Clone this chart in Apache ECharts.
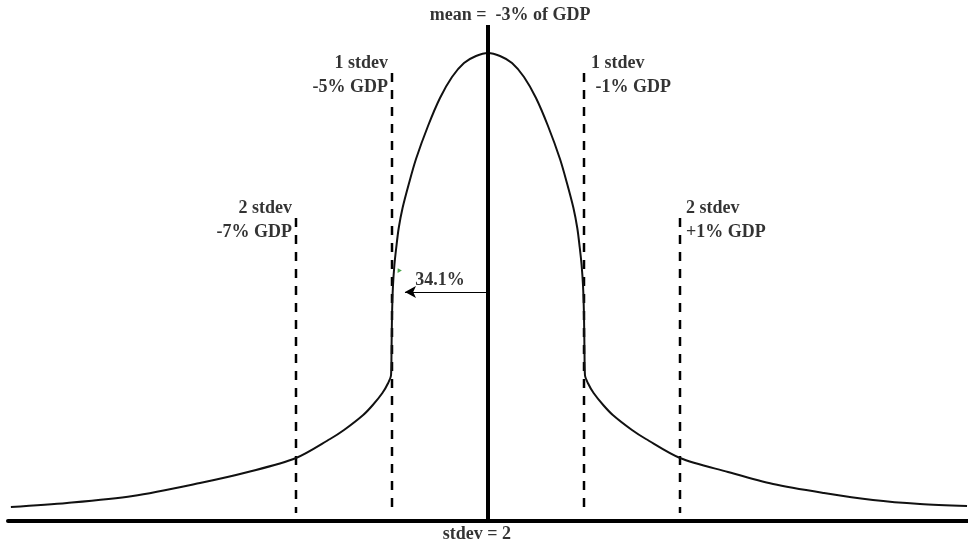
<!DOCTYPE html>
<html><head><meta charset="utf-8">
<script src="https://cdn.jsdelivr.net/npm/echarts@6/dist/echarts.min.js"></script>
<style>html,body{margin:0;padding:0;background:#fff}#c{width:968px;height:548px}</style>
</head><body><div id="c"></div>
<script>
// Curve points (x in % of GDP, y in arbitrary height units)
const curveX = [-12.94, -11.77, -10.4, -9.0, -8.0, -7.0, -6.29, -6.0, -5.6, -5.4, -5.2, -5.08, -5.02, -5.01, -5.0, -4.98, -4.95, -4.91, -4.86, -4.78, -4.65, -4.5, -4.25, -4.0, -3.75, -3.5, -3.25, -3.0,
                -2.75, -2.5, -2.25, -2.0, -1.75, -1.5, -1.35, -1.22, -1.14, -1.09, -1.05, -1.02, -1.0, -0.99, -0.98, -0.92, -0.8, -0.6, -0.4, 0.0, 0.29, 1.0, 2.0, 2.94, 4.0, 5.02, 6.0, 6.98];
const curveY = [14, 18, 25, 38, 49, 63, 82, 91, 106, 116, 128, 138, 146, 170, 205, 235, 256, 274, 293, 313, 337, 362, 395, 423, 444, 458, 465, 468,
                465, 458, 444, 423, 395, 362, 337, 313, 293, 274, 256, 235, 205, 170, 146, 138, 128, 116, 106, 91, 82, 63, 49, 37, 28, 21, 17, 15];
const meanX = -3;
const meanTop = 496;
const stdevLinesX = [-7, -5, -1, 1];
const stdevLinesTop = [303, 448, 448, 303];
const stdevLinesBottom = 8;
const arrowFrom = [-3, 229];
const arrowTo = [-4.73, 229];
const greenTick = [-4.86, 251];
const labelTexts = ['mean =  -3% of GDP', '1 stdev\n-5% GDP', '1 stdev\n -1% GDP', '2 stdev\n-7% GDP', '2 stdev\n+1% GDP', '34.1%', 'stdev = 2'];
const labelX = [-2.54, -5.083, -0.854, -7.083, 1.125, -4.0, -3.23];
const labelY = [506, 446, 446, 301, 301, 241, -13];
const labelAlign = ['center', 'right', 'left', 'right', 'left', 'center', 'center'];

const chart = echarts.init(document.getElementById('c'), null, {renderer: 'canvas'});
const FONT = '"Liberation Serif", "Times New Roman", serif';
const series = [];
series.push({
  type: 'line', data: curveX.map((x, i) => [x, curveY[i]]), showSymbol: false, smooth: 0.3,
  lineStyle: {color: '#111', width: 2, join: 'round'}, silent: true, z: 3
});
series.push({
  type: 'line', data: [[meanX, 0], [meanX, meanTop]], showSymbol: false,
  lineStyle: {color: '#000', width: 4}, silent: true, z: 4
});
stdevLinesX.forEach((x, i) => {
  series.push({
    type: 'line', data: [[x, stdevLinesTop[i]], [x, stdevLinesBottom]], showSymbol: false,
    lineStyle: {color: '#000', width: 2.5, type: [9, 8]}, silent: true, z: 2
  });
});
series.push({
  type: 'line', data: [], silent: true,
  markLine: {
    silent: true, symbol: ['none', 'arrow'], symbolSize: [9, 11],
    lineStyle: {color: '#000', width: 1, type: 'solid'}, label: {show: false},
    data: [[{coord: arrowFrom}, {coord: arrowTo}]]
  }
});
series.push({
  type: 'scatter', symbol: 'triangle', symbolSize: [5, 4], symbolRotate: 30, silent: true, z: 2,
  itemStyle: {color: '#1f8f1f'}, data: [greenTick]
});
series.push({
  type: 'scatter', clip: false, symbolSize: 0, silent: true, z: 5,
  data: labelTexts.map((t, i) => ({
    value: [labelX[i], labelY[i]],
    label: {show: true, position: 'inside', formatter: t, align: labelAlign[i], verticalAlign: 'middle',
            color: '#000', fontFamily: FONT, fontWeight: 'bold', fontSize: 18, lineHeight: 24}
  }))
});

chart.setOption({
  animation: false,
  backgroundColor: '#fff',
  grid: {left: 8, right: 0, top: 21, bottom: 27},
  xAxis: {type: 'value', min: -13, max: 7, axisLine: {show: true, onZero: false, lineStyle: {color: '#000', width: 4}},
          axisTick: {show: false}, axisLabel: {show: false}, splitLine: {show: false}},
  yAxis: {type: 'value', min: 0, max: 500, show: false, splitLine: {show: false}},
  series: series
});
</script></body></html>
